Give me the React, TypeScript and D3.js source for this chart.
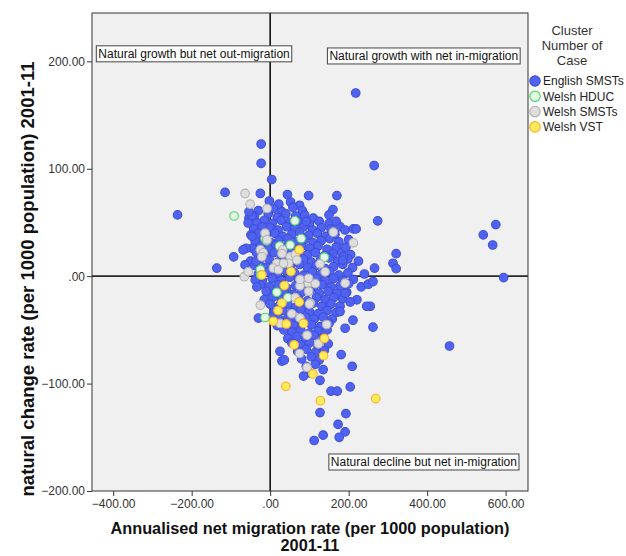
import React, { useEffect, useRef } from 'react';
import * as d3 from 'd3';

type Pt = [number, number];

// English SMSTs - dense core
const englishCore: Pt[] = [
  [-2, 70], [22, 67], [52, 69], [75, 66],
  [-30, 61], [8, 63], [30, 60], [58, 64], [82, 61], [160, 62],
  [-40, 56], [-5, 58], [18, 55], [40, 58], [65, 56], [88, 57], [110, 54], [150, 57],
  [-35, 50], [-15, 52], [5, 49], [28, 52], [50, 50], [72, 51], [100, 48], [125, 51], [150, 49],
  [-42, 44], [-20, 46], [0, 45], [20, 43], [42, 46], [62, 44], [85, 46], [108, 43], [130, 45], [155, 44], [178, 46],
  [-30, 40], [-10, 38], [12, 40], [32, 37], [55, 39], [75, 41], [98, 38], [120, 40], [142, 37], [165, 39],
  [-38, 32], [-18, 34], [2, 31], [22, 33], [45, 35], [68, 32], [88, 34], [110, 31], [130, 33], [152, 35], [175, 32], [200, 34],
  [-45, 26], [-25, 28], [-5, 26], [15, 29], [38, 27], [58, 25], [80, 28], [100, 26], [122, 28], [145, 25], [168, 27],
  [-35, 22], [-12, 20], [10, 22], [30, 19], [52, 21], [72, 23], [95, 20], [115, 22], [138, 19], [160, 21], [182, 22], [205, 20],
  [-50, 14], [-25, 16], [-2, 15], [20, 13], [42, 16], [62, 14], [85, 16], [105, 13], [128, 15], [150, 17], [172, 14], [198, 16], [225, 14],
  [-40, 10], [-15, 8], [8, 10], [30, 7], [52, 9], [75, 11], [95, 8], [118, 10], [140, 7], [162, 9], [185, 11], [210, 8],
  [-30, 2], [-5, 4], [18, 2], [40, 5], [62, 3], [85, 1], [108, 4], [130, 2], [152, 4], [175, 1], [198, 3], [240, 2],
  [-20, -4], [5, -2], [28, -4], [50, -1], [72, -3], [95, -5], [118, -2], [140, -4], [162, -2], [185, -4], [212, -3],
  [-25, -8], [-2, -10], [20, -8], [42, -11], [65, -9], [88, -7], [110, -10], [132, -8], [155, -10], [178, -9], [200, -7], [232, -10],
  [-10, -14], [12, -16], [35, -14], [58, -17], [80, -15], [102, -13], [125, -16], [148, -14], [170, -16], [195, -15],
  [-15, -22], [5, -20], [28, -22], [50, -19], [72, -21], [95, -23], [118, -20], [140, -22], [162, -20], [185, -21],
  [0, -26], [22, -28], [45, -26], [65, -29], [88, -27], [110, -25], [132, -28], [155, -26], [178, -28],
  [10, -34], [32, -32], [55, -34], [78, -31], [100, -33], [122, -35], [145, -32], [168, -34],
  [5, -38], [22, -40], [45, -39], [68, -41], [90, -38], [112, -40], [135, -38], [158, -40],
  [18, -46], [38, -44], [60, -46], [82, -43], [105, -45], [128, -47], [150, -44],
  [35, -50], [55, -52], [78, -50], [100, -53], [122, -51], [145, -50],
  [45, -58], [68, -56], [90, -58], [112, -55], [135, -57],
  [55, -62], [78, -64], [100, -62], [122, -65], [148, -63],
  [70, -70], [92, -68], [115, -71], [138, -69],
  [80, -77], [105, -75], [125, -78],
  [92, -84], [115, -82],
  [100, -90],
];

// English SMSTs - scattered
const englishOuter: Pt[] = [
  [-236, 57], [-136, 7.5], [-115, 78], [-93, 18], [-61, 26], [-69, 24.5], [-49, 38.5], [-46, 37],
  [-64, 10.5], [-36, 13.6], [-38, -3.5], [-34, -10], [-54, 54], [-56, 49.5], [-46, 56], [-54, 60],
  [-30, -39], [-23, 123], [-23, 105], [4, 90], [-25, 77], [44, 76], [98, 75], [170, 75], [265, 103],
  [218, 170.5], [92, 51], [168, 51], [274, 51.5], [191, 43], [212, 44], [219, 44], [193, 27],
  [187, 18], [185, 15], [266, 7.5], [250, -7.5], [262, -5], [321, 21], [313, 12], [321, 7],
  [255, -28], [262, -47.5], [457, -65], [543, 38.5], [575, 48], [567, 29], [595, -1.3],
  [25, -70], [30, -79], [36, -78], [85, -93], [135, -87], [127, -97], [181, -73], [209, -84],
  [204, -103], [155, -107], [171, -107], [127, -127], [193, -128], [173, -138], [191, -145],
  [135, -148], [112, -153], [176, -150], [211, -41], [191, -48.5], [178, -33], [246, -28],
  [221, -22], [204, -24], [191, -16],
];

// Welsh HDUC
const welshHduc: Pt[] = [
  [-92, 56], [63, 51.5], [79, 35], [24, 28], [138, 17.7], [-25, 6], [-13, 35], [51, 29],
  [17, -15], [45, -20], [-13, -38.5], [-24, 1], [-9, 33],
];

// Welsh SMSTs
const welshSmsts: Pt[] = [
  [-64, 77], [-51, 67], [-8, 63], [-13, 40], [-8, 34], [-25, 24.5], [-18, 21.7], [-66, -0.5],
  [-56, 4], [32, 24.5], [51, 18], [64, 20], [68, 15], [127, 11.5], [140, 4], [191, -6.5],
  [97, -6.5], [115, -7], [76, -9], [161, 41], [212, 31], [30, 21], [-21, 18], [17, 12],
  [8, 7.5], [21, 6], [47, 12], [34, 12], [98, -2], [76, -3], [98, -14], [64, -20], [-25, -27],
  [102, -25], [25, -44], [76, -39], [144, -45], [94, -55], [100, -26], [55, -35], [123, -63],
  [75, -72], [94, -85],
];

// Welsh VST
const welshVst: Pt[] = [
  [74, 24.5], [53, 4.3], [36, -8.8], [-21, 1.2], [30, -25], [74, -24], [20, -32], [8, -42],
  [41, -44.5], [85, -44], [138, -58], [61, -64], [136, -74], [109, -91], [40, -102.5],
  [128, -116], [269, -114],
];

const xTicks = [-400, -200, 0, 200, 400, 600];
const yTicks = [-200, -100, 0, 100, 200];

const series = [
  { name: 'English SMSTs', fill: '#5062f0', stroke: '#3f4fd8', points: [...englishCore, ...englishOuter] },
  { name: 'Welsh HDUC', fill: '#e4f8e4', stroke: '#4ed66a', points: welshHduc },
  { name: 'Welsh SMSTs', fill: '#dedede', stroke: '#b2b2b2', points: welshSmsts },
  { name: 'Welsh VST', fill: '#ffee5a', stroke: '#ffab2a', points: welshVst },
];

const quadrantNotes = [
  { text: 'Natural growth but net out-migration', x: -443, y: 207, anchor: 'start' },
  { text: 'Natural growth with net in-migration', x: 637, y: 205, anchor: 'end' },
  { text: 'Natural decline but net in-migration', x: 634, y: -173, anchor: 'end' },
];

const W = 626;
const H = 556;
const FONT = 'Arial, "Liberation Sans", sans-serif';

export default function App() {
  const svgRef = useRef<SVGSVGElement>(null);

  useEffect(() => {
    const svg = d3.select(svgRef.current);
    svg.selectAll('*').remove();

    const left = 92, right = 528, top = 13, bottom = 491;
    const x = d3.scaleLinear().domain([-454, 657]).range([left, right]);
    const y = d3.scaleLinear().domain([-200, 245]).range([bottom, top]);
    const fmt = (v: number) => (v === 0 ? '.00' : d3.format('.2f')(v));

    svg.append('rect').attr('width', W).attr('height', H).attr('fill', '#fff');
    svg.append('rect')
      .attr('x', left).attr('y', top)
      .attr('width', right - left).attr('height', bottom - top)
      .attr('fill', '#f0f0f0');

    // reference lines
    svg.append('line')
      .attr('x1', left).attr('x2', right).attr('y1', y(0)).attr('y2', y(0))
      .attr('stroke', '#2a2a2a').attr('stroke-width', 1.6);
    svg.append('line')
      .attr('x1', x(0)).attr('x2', x(0)).attr('y1', top).attr('y2', bottom)
      .attr('stroke', '#111').attr('stroke-width', 1.6);

    // points
    series.forEach(s => {
      svg.append('g').selectAll('circle')
        .data(s.points)
        .enter().append('circle')
        .attr('cx', d => x(d[0]))
        .attr('cy', d => y(d[1]))
        .attr('r', 4.3)
        .attr('fill', s.fill)
        .attr('stroke', s.stroke)
        .attr('stroke-width', 1.1);
    });

    // frame
    svg.append('rect')
      .attr('x', left).attr('y', top)
      .attr('width', right - left).attr('height', bottom - top)
      .attr('fill', 'none').attr('stroke', '#333').attr('stroke-width', 1);

    // axes
    const xAxis = svg.append('g')
      .attr('transform', `translate(0,${bottom})`)
      .call(d3.axisBottom(x).tickValues(xTicks).tickFormat(d => fmt(+d)).tickSize(5).tickPadding(3));
    const yAxis = svg.append('g')
      .attr('transform', `translate(${left},0)`)
      .call(d3.axisLeft(y).tickValues(yTicks).tickFormat(d => fmt(+d)).tickSize(5).tickPadding(2));
    [xAxis, yAxis].forEach(a => {
      a.select('.domain').remove();
      a.selectAll('.tick line').attr('stroke', '#333');
      a.selectAll('.tick text').attr('fill', '#333').style('font-family', FONT).style('font-size', '12px');
    });

    // quadrant notes
    quadrantNotes.forEach(n => {
      const g = svg.append('g');
      const t = g.append('text')
        .attr('x', x(n.x) + (n.anchor === 'start' ? 2 : -2))
        .attr('y', y(n.y) + 4.5)
        .attr('text-anchor', n.anchor)
        .style('font-family', FONT).style('font-size', '12px').attr('fill', '#111')
        .text(n.text);
      const bb = (t.node() as SVGTextElement).getBBox();
      g.insert('rect', 'text')
        .attr('x', bb.x - 2).attr('y', y(n.y) - 8)
        .attr('width', bb.width + 4).attr('height', 16)
        .attr('fill', '#fff').attr('stroke', '#444').attr('stroke-width', 1);
    });

    // axis titles
    const xTitle = ['Annualised net migration rate (per 1000 population)', '2001-11'];
    xTitle.forEach((l, i) => {
      svg.append('text')
        .attr('x', (left + right) / 2).attr('y', 534 + i * 17)
        .attr('text-anchor', 'middle')
        .style('font-family', FONT).style('font-size', '16.3px').style('font-weight', 'bold').attr('fill', '#111')
        .text(l);
    });

    svg.append('text')
      .attr('transform', `translate(34,${(top + bottom) / 2 + 27}) rotate(-90)`)
      .attr('text-anchor', 'middle')
      .style('font-family', FONT).style('font-size', '18.5px').style('font-weight', 'bold').attr('fill', '#111')
      .text('natural change rate (per 1000 population) 2001-11');

    // legend
    const lg = svg.append('g');
    ['Cluster', 'Number of', 'Case'].forEach((l, i) => {
      lg.append('text')
        .attr('x', 572).attr('y', 35 + i * 15)
        .attr('text-anchor', 'middle')
        .style('font-family', FONT).style('font-size', '13px').attr('fill', '#333')
        .text(l);
    });
    series.forEach((s, i) => {
      const cy = 81 + i * 15.3;
      lg.append('circle').attr('cx', 535).attr('cy', cy).attr('r', 5.2)
        .attr('fill', s.fill).attr('stroke', s.stroke).attr('stroke-width', 1.2);
      lg.append('text').attr('x', 543).attr('y', cy + 4.3)
        .style('font-family', FONT).style('font-size', '12px').attr('fill', '#222')
        .text(s.name);
    });
  }, []);

  return (
    <div style={{ position: 'absolute', left: 0, top: 0 }}>
      <svg ref={svgRef} width={W} height={H} style={{ display: 'block' }} />
    </div>
  );
}
